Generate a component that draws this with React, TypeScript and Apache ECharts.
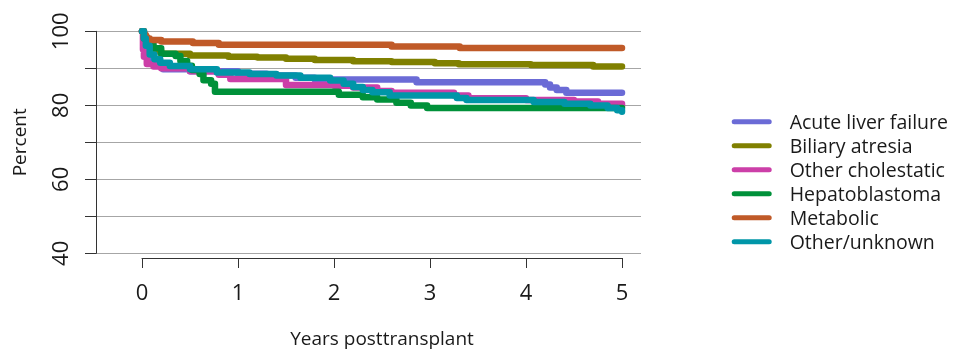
import React, { useEffect, useRef } from "react";
import * as echarts from "echarts";

const categories = [
  "Acute liver failure",
  "Biliary atresia",
  "Other cholestatic",
  "Hepatoblastoma",
  "Metabolic",
  "Other/unknown",
];
const colors = ["#6b6bd6", "#808000", "#cc3fa8", "#00913a", "#c05a28", "#0096a8"];

// [years, percent surviving] – step curves (value after each event time)
const acuteLiverFailure = [
  [0, 100], [0.02, 97], [0.05, 94], [0.1, 92], [0.15, 90.5], [0.22, 89.5], [0.5, 89],
  [1.0, 88.3], [1.3, 87.8], [1.6, 87.2], [1.8, 86.7], [2.86, 85.9], [4.2, 85.3],
  [4.25, 84.5], [4.32, 83.8], [4.42, 83.0], [5, 83.0],
];
const biliaryAtresia = [
  [0, 100], [0.02, 98.5], [0.05, 97], [0.08, 95.5], [0.12, 94.5], [0.2, 93.8], [0.5, 93.3],
  [0.9, 93.0], [1.2, 92.8], [1.5, 92.4], [1.8, 92.1], [2.2, 91.7], [2.6, 91.5],
  [3.05, 91.2], [3.3, 90.9], [4.05, 90.7], [4.7, 90.3], [5, 90.3],
];
const otherCholestatic = [
  [0, 100], [0.01, 95], [0.02, 93], [0.05, 91], [0.12, 90.3], [0.2, 89.8], [0.5, 89],
  [0.8, 88], [0.92, 86.8], [1.5, 85.2], [2.0, 85.0], [2.2, 84.5], [2.45, 83.5],
  [2.6, 83], [3.25, 82.3], [3.4, 81.5], [4.0, 81.0], [4.5, 80.6], [4.75, 80.0], [5, 79.3],
];
const hepatoblastoma = [
  [0, 100], [0.02, 98], [0.05, 96.5], [0.12, 95.3], [0.2, 93.8], [0.35, 93.2], [0.4, 91.8],
  [0.47, 90.5], [0.52, 89.3], [0.6, 88.2], [0.64, 86.5], [0.72, 85.5], [0.76, 83.3],
  [1.95, 83.3], [2.05, 82.5], [2.3, 81.8], [2.45, 81.2], [2.65, 80.3], [2.8, 79.5],
  [2.97, 78.8], [5, 78.8],
];
const metabolic = [
  [0, 100], [0.02, 99], [0.04, 98], [0.08, 97.6], [0.2, 97.2], [0.53, 96.8], [0.8, 96.3],
  [2.6, 95.8], [3.31, 95.4], [5, 95.4],
];
const otherUnknown = [
  [0, 100], [0.02, 98], [0.04, 96], [0.08, 93.6], [0.13, 92.3], [0.19, 91.3], [0.29, 90.4],
  [0.5, 89.5], [0.78, 88.6], [1.12, 88.2], [1.4, 87.8], [1.65, 87.2], [1.96, 86.4],
  [2.1, 85.5], [2.2, 84.6], [2.3, 83.8], [2.4, 83.2], [2.58, 82.3], [3.28, 81.6],
  [3.38, 81.0], [4.08, 80.5], [4.4, 80.0], [4.67, 79.5], [4.85, 78.8], [4.95, 78.2], [5, 77.8],
];
const seriesData = [
  acuteLiverFailure, biliaryAtresia, otherCholestatic, hepatoblastoma, metabolic, otherUnknown,
];

const yTickLabels = [40, 60, 80, 100];
const xTickLabels = [0, 1, 2, 3, 4, 5];

const FONT = "'Open Sans', 'Noto Sans', sans-serif";
const TEXT = "#1a1a1a";
const AXIS = "#333333";
const LEGEND_ICON =
  "path://M2.5,0 L37.5,0 A2.5,2.5 0 0 1 37.5,5 L2.5,5 A2.5,2.5 0 0 1 2.5,0 Z";

export default function App() {
  const ref = useRef<HTMLDivElement>(null);
  useEffect(() => {
    if (!ref.current) return;
    const chart = echarts.init(ref.current, undefined, { renderer: "svg" });
    chart.setOption({
      animation: false,
      textStyle: { fontFamily: FONT },
      grid: [
        { left: 96, top: 31.3, width: 545, height: 222, containLabel: false },
        { left: 142, top: 31.3, width: 480, height: 222, containLabel: false },
      ],
      xAxis: [
        { gridIndex: 0, type: "value", min: 0, max: 1, show: false },
        {
          gridIndex: 1,
          type: "value",
          min: 0,
          max: 5,
          interval: 1,
          offset: 9.4,
          axisLine: { show: true, lineStyle: { color: AXIS, width: 1 } },
          axisTick: { show: true, length: 10, lineStyle: { color: AXIS } },
          splitLine: { show: false },
          axisLabel: {
            margin: 22,
            fontSize: 22,
            color: TEXT,
            fontFamily: FONT,
            formatter: (v: number) => (xTickLabels.includes(v) ? String(v) : ""),
          },
          name: "Years posttransplant",
          nameLocation: "middle",
          nameGap: 70,
          nameTextStyle: { fontSize: 19, color: TEXT, fontFamily: FONT },
        },
      ],
      yAxis: [
        {
          gridIndex: 0,
          type: "value",
          min: 40,
          max: 100,
          interval: 10,
          axisLine: { show: true, lineStyle: { color: AXIS, width: 1 } },
          axisTick: { show: true, length: 11, lineStyle: { color: AXIS } },
          splitLine: { show: true, lineStyle: { color: "#a6a6a6", width: 1 } },
          axisLabel: {
            rotate: 90,
            margin: 26,
            fontSize: 22,
            color: TEXT,
            fontFamily: FONT,
            formatter: (v: number) => (yTickLabels.includes(v) ? String(v) : ""),
          },
          name: "Percent",
          nameLocation: "middle",
          nameRotate: 90,
          nameGap: 68,
          nameTextStyle: { fontSize: 19, color: TEXT, fontFamily: FONT },
        },
        { gridIndex: 1, type: "value", min: 40, max: 100, show: false },
      ],
      legend: {
        orient: "vertical",
        left: 731.7,
        top: 111.7,
        padding: 0,
        itemWidth: 40,
        itemHeight: 5,
        itemGap: 4,
        icon: LEGEND_ICON,
        data: categories,
        textStyle: {
          fontSize: 19.5,
          lineHeight: 20,
          color: TEXT,
          fontFamily: FONT,
          padding: [0, 0, 0, 13],
        },
      },
      series: categories.map((name, i) => ({
        name,
        type: "line",
        xAxisIndex: 1,
        yAxisIndex: 1,
        step: "end",
        symbol: "none",
        showSymbol: false,
        clip: false,
        color: colors[i],
        itemStyle: { color: colors[i] },
        lineStyle: { width: 6.5, color: colors[i], cap: "round", join: "round" },
        data: seriesData[i],
      })),
    });
    return () => chart.dispose();
  }, []);
  return (
    <div
      ref={ref}
      style={{ position: "fixed", left: 0, top: 0, width: 953, height: 352 }}
    />
  );
}
